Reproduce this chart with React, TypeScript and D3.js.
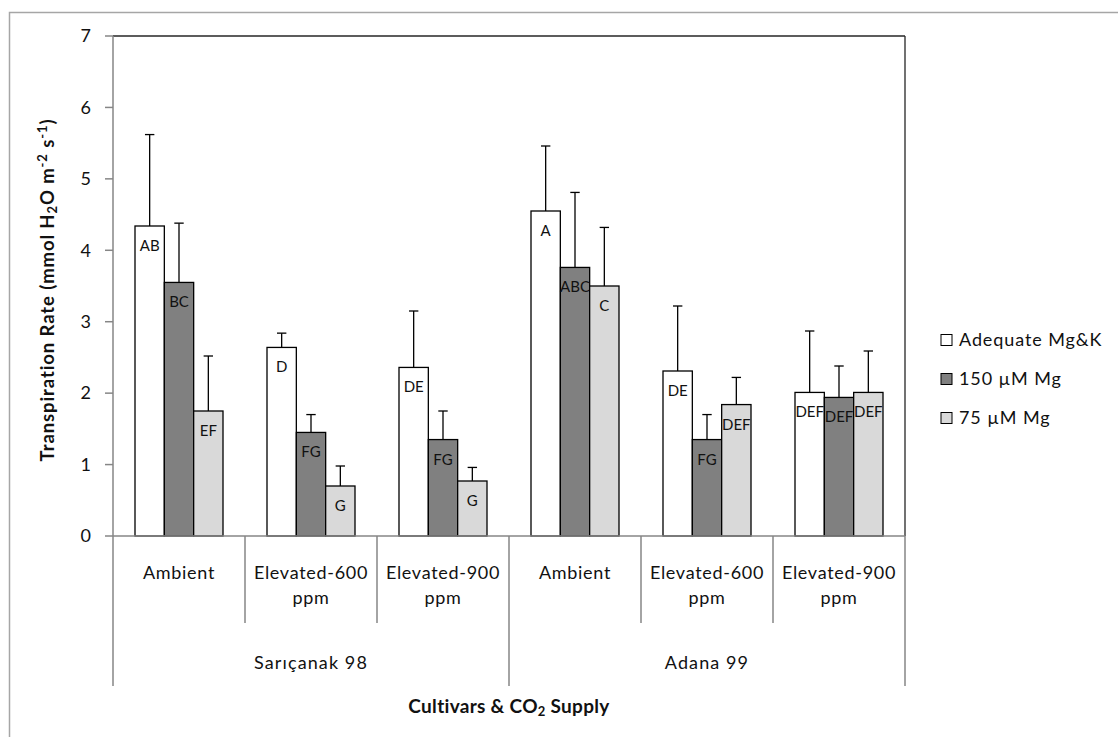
import React from "react";
import * as d3 from "d3";

const cultivars = ["Sarıçanak 98", "Adana 99"];
const co2Levels = [["Ambient"], ["Elevated-600", "ppm"], ["Elevated-900", "ppm"]];
const seriesNames = ["Adequate Mg&K", "150 µM Mg", "75 µM Mg"];
const seriesColors = ["#ffffff", "#808080", "#d9d9d9"];

// values per category (6 categories: cultivar x CO2), per series
const adequate = [4.34, 2.64, 2.36, 4.55, 2.31, 2.01];
const mg150 = [3.55, 1.45, 1.35, 3.76, 1.35, 1.94];
const mg75 = [1.75, 0.70, 0.77, 3.50, 1.84, 2.01];

const adequateErr = [1.28, 0.20, 0.79, 0.91, 0.91, 0.86];
const mg150Err = [0.83, 0.25, 0.40, 1.05, 0.35, 0.44];
const mg75Err = [0.77, 0.28, 0.19, 0.82, 0.38, 0.58];

const adequateLetters = ["AB", "D", "DE", "A", "DE", "DEF"];
const mg150Letters = ["BC", "FG", "FG", "ABC", "FG", "DEF"];
const mg75Letters = ["EF", "G", "G", "C", "DEF", "DEF"];

const yTicks = [0, 1, 2, 3, 4, 5, 6, 7];

const FONT = "Lato, 'Open Sans', sans-serif";

export default function App() {
  const W = 1118, H = 737;
  const left = 113, right = 905, top = 36, bottom = 536;

  const categories = cultivars.flatMap((c, ci) => co2Levels.map((l, li) => `${ci}-${li}`));
  const x = d3.scaleBand<string>().domain(categories).range([left, right]).padding(0);
  const xi = d3.scaleBand<number>().domain([0, 1, 2]).range([0, x.bandwidth()]).paddingInner(0).paddingOuter(0.75);
  const y = d3.scaleLinear().domain([0, 7]).range([bottom, top]);

  const values = [adequate, mg150, mg75];
  const errs = [adequateErr, mg150Err, mg75Err];
  const letters = [adequateLetters, mg150Letters, mg75Letters];

  const axisGray = "#868686";
  const outerX = d3.scaleBand<string>().domain(cultivars).range([left, right]);

  return (
    <svg width={W} height={H} style={{ position: "absolute", left: 0, top: 0, background: "#fff" }} fontFamily={FONT}>
      <rect x={0} y={0} width={W} height={H} fill="#fff" />
      {/* outer chart border */}
      <rect x={9.5} y={12.5} width={W + 20} height={H + 20} fill="none" stroke="#a6a6a6" strokeWidth={1.5} />

      {/* plot frame top/right */}
      <line x1={left} y1={top} x2={right} y2={top} stroke="#262626" strokeWidth={1.3} />
      <line x1={right} y1={top} x2={right} y2={bottom} stroke="#262626" strokeWidth={1.3} />

      {/* bars */}
      {values.map((vals, si) =>
        vals.map((v, ci) => {
          const bx = (x(categories[ci]) as number) + (xi(si) as number);
          const bw = xi.bandwidth();
          const cx = bx + bw / 2;
          const yTop = y(v);
          const yErr = y(v + errs[si][ci]);
          return (
            <g key={`b-${si}-${ci}`}>
              <line x1={cx} x2={cx} y1={yTop} y2={yErr} stroke="#000" strokeWidth={1.3} />
              <line x1={cx - 4.7} x2={cx + 4.7} y1={yErr} y2={yErr} stroke="#000" strokeWidth={1.3} />
              <rect x={bx} y={yTop} width={bw} height={bottom - yTop} fill={seriesColors[si]} stroke="#000" strokeWidth={1.3} />
              <text x={cx} y={yTop + 25} textAnchor="middle" fontSize={15} fill="#111">
                {letters[si][ci]}
              </text>
            </g>
          );
        })
      )}

      {/* y axis */}
      <line x1={left} y1={top} x2={left} y2={bottom} stroke={axisGray} strokeWidth={1.5} />
      {yTicks.map((t) => (
        <g key={`yt-${t}`}>
          <line x1={left - 8} x2={left} y1={y(t)} y2={y(t)} stroke={axisGray} strokeWidth={1.5} />
          <text x={91} y={y(t)} dy="0.35em" textAnchor="end" fontSize={18} fill="#111">
            {t}
          </text>
        </g>
      ))}

      {/* x axis */}
      <line x1={left} y1={bottom} x2={right} y2={bottom} stroke={axisGray} strokeWidth={1.5} />
      {categories.map((c, ci) => {
        const x0 = x(c) as number;
        const lines = co2Levels[ci % 3];
        const isOuter = ci % 3 === 0;
        return (
          <g key={`xc-${c}`}>
            <line x1={x0} x2={x0} y1={bottom} y2={isOuter ? 686 : 623} stroke={axisGray} strokeWidth={1.5} />
            {lines.map((ln, li) => (
              <text key={li} x={x0 + x.bandwidth() / 2} y={579 + li * 25} textAnchor="middle" fontSize={18} letterSpacing={0.7} fill="#111">
                {ln}
              </text>
            ))}
          </g>
        );
      })}
      <line x1={right} x2={right} y1={bottom} y2={686} stroke={axisGray} strokeWidth={1.5} />
      {cultivars.map((c) => (
        <text key={c} x={(outerX(c) as number) + outerX.bandwidth() / 2} y={669} textAnchor="middle" fontSize={18} letterSpacing={1.1} fill="#111">
          {c}
        </text>
      ))}

      {/* axis titles */}
      <text x={(left + right) / 2} y={713} textAnchor="middle" fontSize={19} fontWeight="bold" letterSpacing={0.3} fill="#111">
        Cultivars &amp; CO<tspan fontSize={13} dy={3}>2</tspan>
        <tspan dy={-3}> Supply</tspan>
      </text>
      <text transform={`translate(54, ${(top + bottom) / 2 + 4}) rotate(-90)`} textAnchor="middle" fontSize={18.5} fontWeight="bold" letterSpacing={0.9} fill="#111">
        Transpiration Rate (mmol H<tspan fontSize={13} dy={3}>2</tspan>
        <tspan dy={-3}>O m</tspan>
        <tspan fontSize={13} dy={-7}>-2</tspan>
        <tspan dy={7}> s</tspan>
        <tspan fontSize={13} dy={-7}>-1</tspan>
        <tspan dy={7}>)</tspan>
      </text>

      {/* legend */}
      {seriesNames.map((s, si) => {
        const cy = 340 + si * 39;
        return (
          <g key={s}>
            <rect x={941} y={cy - 5.5} width={11} height={11} fill={seriesColors[si]} stroke="#000" strokeWidth={1} />
            <text x={959} y={cy} dy="0.35em" fontSize={18} letterSpacing={0.9} fill="#111">
              {s}
            </text>
          </g>
        );
      })}
    </svg>
  );
}
